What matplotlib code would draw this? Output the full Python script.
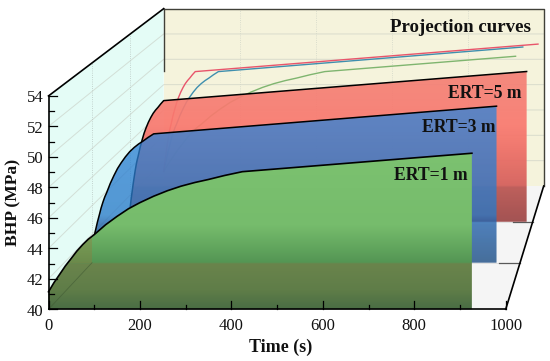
import numpy as np
import matplotlib
matplotlib.use("Agg")
import matplotlib.pyplot as plt
from matplotlib.patches import Polygon

plt.rcParams['font.family'] = ['Liberation Serif', 'DejaVu Serif']

# ---- data ----
bhp_shared = [41.15, 41.75, 42.32, 42.85, 43.35, 43.82, 44.25, 44.6, 44.9, 45.55,
              46.1, 46.6, 47.0, 47.42, 47.78, 48.08, 48.32, 48.52, 48.78, 49.03]
time_1 = [0, 12, 25, 37, 50, 62, 75, 87, 100, 125,
          150, 175, 200, 230, 260, 290, 320, 350, 385, 424, 926]
bhp_1 = bhp_shared + [50.24]
time_3 = [0, 4, 8.5, 12.6, 17, 21, 25.5, 29.6, 34, 42.5,
          51, 59.5, 68, 78, 88, 98.6, 108.8, 119, 131, 144, 945]
bhp_3 = bhp_shared + [50.97]
time_5 = [0, 2.4, 4.9, 7.3, 9.8, 12.2, 14.7, 17.1, 19.6, 24.5,
          29.4, 34.3, 39.2, 45, 51, 56.8, 62.7, 68.6, 75.5, 83, 985]
bhp_5 = bhp_shared + [51.2]
labels_x = [0, 200, 400, 600, 800, 1000]
labels_y = [40, 42, 44, 46, 48, 50, 52, 54]

# ---- oblique box projection (pixels) ----
D3, D5 = 0.378, 0.71


def P(t, p, d=0.0):
    t = np.asarray(t, float)
    p = np.asarray(p, float)
    x = 48.5 + 115.2 * d + t * (0.4572 - 0.0772 * d)
    y = 309.3 - 123.3 * d - (p - 40) * (15.24 - 2.57 * d)
    return x, y


W, H = 550, 361
fig = plt.figure(figsize=(5.5, 3.61), dpi=100)
ax = fig.add_axes([0, 0, 1, 1])
ax.set_xlim(0, W)
ax.set_ylim(H, 0)
ax.axis('off')


def xy(x, y):
    return np.column_stack([np.atleast_1d(x), np.atleast_1d(y)])


def corner(t, p, d):
    x, y = P(t, p, d)
    return [float(x), float(y)]


def gradient_fill(poly, stops, z, alpha=1.0):
    ys = np.arange(0, H, 0.5)
    pos = [s[0] for s in stops]
    img = np.stack([np.interp(ys, pos, [s[1][i] for s in stops]) for i in range(3)], axis=1) / 255
    im = ax.imshow(img[:, None, :], extent=(0, W, H, 0), aspect='auto', zorder=z,
                   alpha=alpha, interpolation='bilinear')
    patch = Polygon(poly, closed=True, transform=ax.transData, fc='none', ec='none')
    ax.add_patch(patch)
    im.set_clip_path(patch)


def plane_poly(ts, ps, d):
    x, y = P(ts, ps, d)
    x0, y0 = P(0, 40, d)
    x1, _ = P(ts[-1], 40, d)
    return np.vstack([[x0, y0], xy(x, y), [x1, y0]])


# walls
ax.add_patch(Polygon([corner(0, 40, 0), corner(0, 54, 0), corner(0, 54, 1), corner(0, 40, 1)],
                     fc=(228/255, 252/255, 246/255), ec='none', zorder=1))
ax.add_patch(Polygon([corner(0, 40, 1), corner(0, 54, 1), corner(1000, 54, 1), corner(1000, 40, 1)],
                     fc=(245/255, 243/255, 220/255), ec='none', zorder=1))
ax.add_patch(Polygon([corner(0, 40, 0), corner(0, 40, 1), corner(1000, 40, 1), corner(1000, 40, 0)],
                     fc=(245/255, 245/255, 245/255), ec='none', zorder=1))

# grids
grid = dict(color=(0.78, 0.80, 0.76), lw=0.7, alpha=0.6, zorder=2)
for p in labels_y[1:-1]:
    x, y = P([0, 0, 1000], [p, p, p], np.array([0, 1, 1]))
    ax.plot(x, y, **grid)
for t in labels_x[1:-1]:
    x, y = P([t, t], [40, 54], 1)
    ax.plot(x, y, color=(0.82, 0.84, 0.78), lw=0.6, ls=':', zorder=2)
for d in (D3, D5):
    x, y = P([0, 0], [40, 54], d)
    ax.plot(x, y, color=(0.72, 0.78, 0.76), lw=0.6, ls=':', zorder=2)
    x, y = P([0, 1000], [40, 40], d)
    ax.plot(x, y, color=(0.88, 0.88, 0.88), lw=0.7, zorder=2)
    x, y = P([950, 1000], [40, 40], d)
    ax.plot(x, y, color=(0.35, 0.35, 0.35), lw=0.9, zorder=2)

# projection curves on back wall
for ts, ps, c in [(time_1, bhp_1, '#7fb56f'), (time_3, bhp_3, '#3f8fae'), (time_5, bhp_5, '#e8556b')]:
    x, y = P(ts, ps, 1)
    ax.plot(x, y, color=c, lw=1.0, zorder=3)

# ERT=5
red_stops = [(60, (242, 130, 120)), (125, (250, 120, 110)), (150, (238, 108, 100)),
             (185, (212, 92, 88)), (187, (185, 82, 78)), (222, (155, 68, 68))]
gradient_fill(plane_poly(time_5, bhp_5, D5), red_stops, 4, alpha=0.92)
x, y = P(time_5, bhp_5, D5)
ax.plot(x, y, color='k', lw=1.1, zorder=4.5)

# ERT=3
blue_stops = [(100, (49, 133, 219)), (215, (40, 122, 201)), (224, (28, 92, 168)),
              (262, (18, 70, 128))]
gradient_fill(plane_poly(time_3, bhp_3, D3), blue_stops, 5, alpha=0.77)
x, y = P(time_3, bhp_3, D3)
ax.plot(x, y, color='k', lw=1.1, zorder=5.5)

# ERT=1
green_stops = [(150, (124, 194, 112)), (225, (118, 188, 108)), (262, (84, 150, 84)),
               (263.5, (106, 132, 76)), (290, (95, 125, 72)), (310, (72, 108, 68))]
green_poly = plane_poly(time_1, bhp_1, 0)
gradient_fill(green_poly, green_stops, 6)
wx, _ = P(0, 40, D3)
olive = Polygon([[48, 200], [float(wx), 200], [float(wx), 263], [48, 263]],
                fc=(150/255, 120/255, 60/255, 0.35), ec='none', zorder=6.2)
ax.add_patch(olive)
clip = Polygon(green_poly, closed=True, transform=ax.transData, fc='none', ec='none')
ax.add_patch(clip)
olive.set_clip_path(clip)
fx, fy = P([0, 0], [40, 40], np.array([0, D3]))
ax.plot(fx, fy, color=(0.25, 0.35, 0.2), lw=0.6, alpha=0.6, zorder=6.3)
x, y = P(time_1, bhp_1, 0)
ax.plot(x, y, color='k', lw=1.2, zorder=6.5)

# box frame
frame_dark = dict(color=(0.25, 0.25, 0.22), lw=1.0, zorder=7)
x, y = P([0, 1000, 1000], [54, 54, 40], 1)
ax.plot(x, y, **frame_dark)
x, y = P([0, 0], [49.1, 54], 1)
ax.plot(x, y, **frame_dark)
x, y = P([1000, 1000], [40, 40], np.array([0, 1]))
ax.plot(x, y, color='k', lw=1.2, zorder=7)
x, y = P([0, 0], [54, 54], np.array([0, 1]))
ax.plot(x, y, color='k', lw=1.2, zorder=7)
x, y = P([0, 0], [40, 54], 0)
ax.plot(x, y, color='k', lw=1.2, zorder=8)
x, y = P([0, 1000], [40, 40], 0)
ax.plot(x, y, color='k', lw=1.2, zorder=8)

# ticks
for p in range(40, 55):
    x, y = P(0, p, 0)
    ln = 8 if p % 2 == 0 else 5
    ax.plot([x, x + ln], [y, y], color='k', lw=0.9, zorder=8)
for t in range(0, 1001, 100):
    x, y = P(t, 40, 0)
    ln = 8 if t % 200 == 0 else 4.5
    ax.plot([x, x], [y, y - ln], color='k', lw=0.9, zorder=8)

# text
tick_kw = dict(fontsize=12, color='#111111', zorder=9)
for t in labels_x:
    x, y = P(t, 40, 0)
    ax.text(float(x), 326, str(t), ha='center', va='center', **tick_kw)
for p in labels_y:
    x, y = P(0, p, 0)
    ax.text(43.5, float(y) + 2.5, str(p), ha='right', va='center', **tick_kw)

lab = dict(fontweight='bold', color='#111111', zorder=9)
ax.text(13, 202, 'BHP (MPa)', rotation=90, ha='center', va='center', fontsize=12.6, **lab)
ax.text(281, 347, 'Time (s)', ha='center', va='center', fontsize=13, **lab)
ax.text(531, 28, 'Projection curves', ha='right', va='center', fontsize=13.6, **lab)
ax.text(522, 93, 'ERT=5 m', ha='right', va='center', fontsize=12.7, **lab)
ax.text(495, 128, 'ERT=3 m', ha='right', va='center', fontsize=12.7, **lab)
ax.text(468, 175, 'ERT=1 m', ha='right', va='center', fontsize=12.7, **lab)

ax.set_xlim(0, W)
ax.set_ylim(H, 0)
fig.savefig('out.png', dpi=100)
